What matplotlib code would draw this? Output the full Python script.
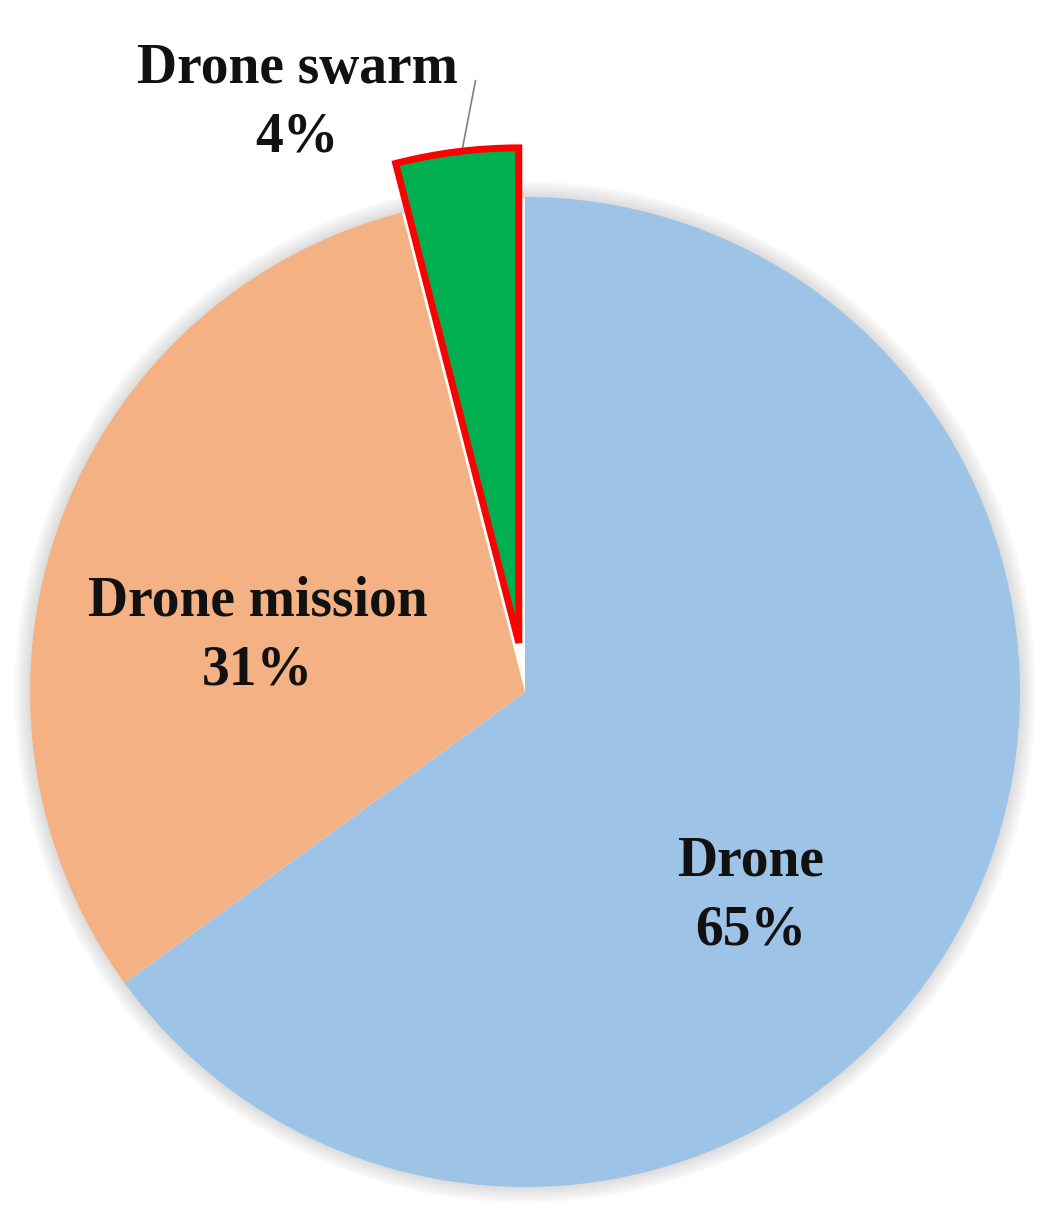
import matplotlib.pyplot as plt
from matplotlib.patches import Wedge

# Data
labels = ["Drone", "Drone mission", "Drone swarm"]
shares = [65, 31, 4]
colors = ["#9DC3E6", "#F4B183", "#00B050"]
explode = [0, 0, 0.1]

fig = plt.figure(figsize=(10.52, 12.2), dpi=100)
ax = fig.add_axes([0, 0, 1, 1])

# soft shadow round the pie (rings only, so the gaps stay white)
for k in range(8):
    r = 1.0 + 0.004 * (k + 1)
    ax.add_patch(Wedge((0, 0), r, 0, 360, width=r - 0.997,
                       facecolor="#888888", alpha=0.035, lw=0, zorder=0))

wedges, _ = ax.pie(shares, colors=colors, explode=explode, startangle=90,
                   counterclock=False, radius=1.0,
                   wedgeprops=dict(linewidth=0, zorder=2))

# highlighted slice
wedges[2].set_edgecolor("#FF0000")
wedges[2].set_linewidth(5)
wedges[2].set_joinstyle("miter")

# pixel layout: centre (525, 692), radius 495 px
ax.set_xlim(-525 / 495, (1052 - 525) / 495)
ax.set_ylim(-(1220 - 692) / 495, 692 / 495)
ax.set_aspect("equal")
ax.axis("off")

font = dict(family="Liberation Serif", fontweight="bold", fontsize=40,
            color="#111111", ha="center", va="center", linespacing=1.42)

label_pos = [(0.455, -0.412), (-0.54, 0.113), (-0.46, 1.19)]
for name, val, (x, y) in zip(labels, shares, label_pos):
    ax.text(x, y, f"{name}\n{val}%", zorder=5, **font)

# leader line for the small slice
ax.plot([-0.127, -0.1], [1.095, 1.235], color="#808080", lw=1.2, zorder=1)

fig.savefig("out.png", dpi=100, facecolor="white")
